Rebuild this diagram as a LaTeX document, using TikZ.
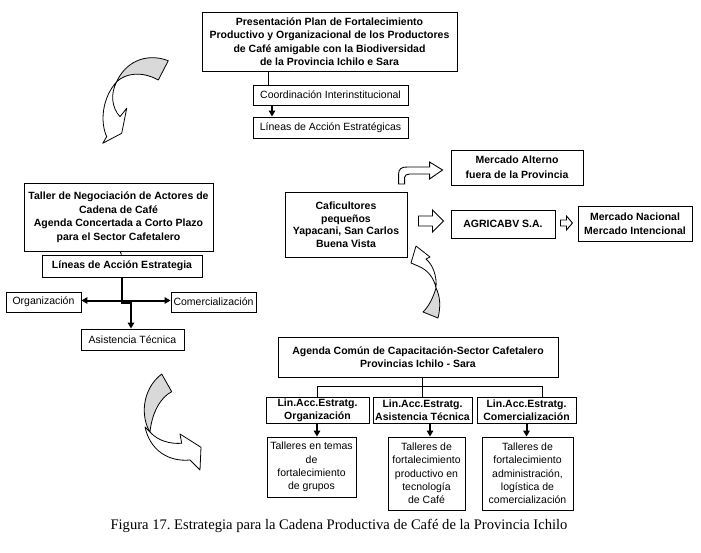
\documentclass[tikz,border=0pt]{standalone}
\usepackage{fontspec}
\setmainfont{Liberation Sans}
\newfontfamily\capfont{Liberation Serif}
\usetikzlibrary{arrows.meta,calc}
\begin{document}
\begin{tikzpicture}[x=1pt,y=-1pt,
  box/.style={draw, line width=0.9pt, fill=white, inner sep=0pt, align=center, font=\fontsize{10.5}{13.5}\selectfont},
  bbox/.style={box, font=\bfseries\fontsize{10.5}{13.5}\selectfont},
  link/.style={line width=0.9pt},
  thickarr/.style={line width=2pt, line join=miter, -{Triangle[width=6.5pt,length=6pt]}},
  dblarr/.style={line width=2pt, {Triangle[width=6.5pt,length=6pt]}-{Triangle[width=6.5pt,length=6pt]}},
  blockarr/.style={draw, line width=0.9pt, fill=white, line join=miter},
  curvew/.style={draw, line width=0.8pt, fill=white, line join=round},
  curveg/.style={draw, line width=0.8pt, fill=gray!30, line join=round},
]
\useasboundingbox (0,0) rectangle (701,553);
\fill[white] (0,0) rectangle (701,553);

% ---------- top column ----------
\node[bbox, minimum width=255pt, minimum height=59pt] (top) at (329.5,41.5)
  {Presentación Plan de Fortalecimiento\\Productivo y Organizacional de los Productores\\de Café amigable con la Biodiversidad\\de la Provincia Ichilo e Sara};
\node[box, minimum width=155pt, minimum height=20pt] (coord) at (330.5,95) {Coordinación Interinstitucional};
\node[box, minimum width=155pt, minimum height=21pt] (lineas) at (330.5,127.5) {Líneas de Acción Estratégicas};
\draw[link] ([xshift=-61.5pt]top.south) -- ([xshift=-62.5pt]coord.north);
\draw[thickarr] ([xshift=-58.5pt]coord.south) -- ([xshift=-58.5pt]lineas.north);

% ---------- left column ----------
\node[bbox, minimum width=189pt, minimum height=68pt] (taller) at (118.5,217)
  {Taller de Negociación de Actores de\\Cadena de Café\\Agenda Concertada a Corto Plazo\\para el Sector Cafetalero};
\node[bbox, minimum width=160pt, minimum height=22pt] (lineasL) at (122,266) {Líneas de Acción Estrategia};
\node[box, minimum width=75pt, minimum height=20pt] (org) at (43.5,302) {Organización};
\node[box, minimum width=85pt, minimum height=20pt] (com) at (213.5,302) {Comercialización};
\node[box, minimum width=103pt, minimum height=21pt] (asis) at (132.5,339.5) {Asistencia Técnica};
\draw[link] ([xshift=1.5pt]taller.south) -- ([xshift=-0.5pt]lineasL.north);
\draw[dblarr] ([yshift=1.5pt]org.east) -- ([yshift=1.5pt]com.west);
\draw[thickarr] (lineasL.south) -- ++(0,26) -- ++(9,0) -- ([xshift=-1.5pt]asis.north);

% ---------- middle ----------
\node[bbox, minimum width=122pt, minimum height=65pt, font=\bfseries\fontsize{10.5}{12.5}\selectfont] (cafi) at (346,224.5)
  {Caficultores\\pequeños\\Yapacani, San Carlos\\Buena Vista};
\node[bbox, minimum width=132pt, minimum height=35pt, font=\bfseries\fontsize{10.5}{15}\selectfont] (alterno) at (517,167.5)
  {Mercado Alterno\\fuera de la Provincia};
\node[bbox, minimum width=104pt, minimum height=28pt] (agri) at (503,224) {AGRICABV S.A.};
\node[bbox, minimum width=114pt, minimum height=35pt, font=\bfseries\fontsize{10.5}{14}\selectfont] (nacional) at (635,223.5)
  {Mercado Nacional\\Mercado Intencional};

\begin{scope}[shift={(cafi.east)}]
  \path[blockarr] (11,-8.5) -- (25,-8.5) -- (25,-14.5) -- (36,-3.5) -- (25,7.5) -- (25,1.5) -- (11,1.5) -- cycle;
\end{scope}
\begin{scope}[shift={(agri.east)}]
  \path[blockarr] (5,-4) -- (11,-4) -- (11,-8) -- (17,-1) -- (11,6) -- (11,2) -- (5,2) -- cycle;
\end{scope}
\begin{scope}[shift={(alterno.west)}]
  \path[blockarr] (-52,16.5) -- (-52,7) .. controls (-52,1) and (-49,-0.5) .. (-43,-0.5) -- (-21,-0.5) -- (-21,-5.5)
    -- (-8,2.5) -- (-21,11.5) -- (-21,6.5) -- (-41,6.5) .. controls (-44,6.5) and (-46,8) .. (-46,10) -- (-46,16.5) -- cycle;
\end{scope}

% ---------- bottom right ----------
\node[bbox, minimum width=280pt, minimum height=40pt, font=\bfseries\fontsize{10.5}{13}\selectfont] (agenda) at (418,357)
  {Agenda Común de Capacitación-Sector Cafetalero\\Provincias Ichilo - Sara};
\node[bbox, minimum width=103pt, minimum height=26pt, font=\bfseries\fontsize{10.5}{13}\selectfont] (lin1) at (317.5,410) {Lin.Acc.Estratg.\\Organización};
\node[bbox, minimum width=99pt, minimum height=26pt, font=\bfseries\fontsize{10.5}{13}\selectfont] (lin2) at (422.5,410) {Lin.Acc.Estratg.\\Asistencia Técnica};
\node[bbox, minimum width=99pt, minimum height=26pt, font=\bfseries\fontsize{10.5}{13}\selectfont] (lin3) at (526.5,410) {Lin.Acc.Estratg.\\Comercialización};
\node[box, minimum width=89pt, minimum height=60pt, font=\fontsize{10.5}{13.3}\selectfont] (tal1) at (311.5,467)
  {Talleres en temas\\de\\fortalecimiento\\de grupos};
\node[box, minimum width=77pt, minimum height=73pt, font=\fontsize{10.5}{13.3}\selectfont] (tal2) at (426.5,473.5)
  {Talleres de\\fortalecimiento\\productivo en\\tecnología\\de Café};
\node[box, minimum width=91pt, minimum height=73pt, font=\fontsize{10.5}{13.3}\selectfont] (tal3) at (527.5,473.5)
  {Talleres de\\fortalecimiento\\administración,\\logística de\\comercialización};

\draw[link] ([xshift=4pt]agenda.south) -- ++(0,10);
\draw[link] (lin1.north) -- ++(0,-10) -| ([xshift=15.5pt]lin3.north);
\draw[link] (lin2.north) -- ++(0,-10);
\draw[thickarr] ([xshift=-0.5pt]lin1.south) coordinate (a1) -- (a1 |- tal1.north);
\draw[thickarr] ([xshift=7.5pt]lin2.south) coordinate (a2) -- (a2 |- tal2.north);
\draw[thickarr] (lin3.south) coordinate (a3) -- (a3 |- tal3.north);

% ---------- curved arrows ----------
% top-left
\path[curvew] (116.7,81.7) .. controls (110,94) and (112,108) .. (120,116.7) -- (126.7,108.3) -- (121.7,133.3)
  -- (102.7,143.3) -- (106.7,136.7) .. controls (100,122) and (102,98) .. (116.7,81.7) -- cycle;
\path[curveg] (116.7,81.7) .. controls (125,63) and (145,52) .. (168.3,60.7) -- (158.3,80)
  .. controls (142,71) and (126,73) .. (116.7,81.7) -- cycle;
% bottom-left
\path[curvew] (150,432) .. controls (158,441) and (170,444) .. (181.7,443.3) -- (180,434) -- (201,447.3) -- (200,470)
  -- (190,460) .. controls (168,462) and (150,450) .. (145,427) -- cycle;
\path[curveg] (161.7,374) -- (171.7,391.7) .. controls (161,397) and (152,412) .. (150,432)
  .. controls (141,418) and (141,390) .. (161.7,374) -- cycle;
% near caficultores
\path[curvew] (418,266) .. controls (428,270) and (434,278) .. (436,288) .. controls (437,276) and (433,265) .. (426,259)
  -- (430,257) -- (416,246) -- (411,263) -- cycle;
\path[curveg] (436,288) .. controls (433,298) and (429,306) .. (423,312) -- (438,318)
  .. controls (441,306) and (440,296) .. (436,288) -- cycle;

% ---------- caption ----------
\node[font=\capfont\fontsize{14.6}{17}\selectfont, anchor=base, inner sep=0pt] (cap) at (339,529)
  {Figura 17.\ Estrategia para la Cadena Productiva de Café de la Provincia Ichilo};
\end{tikzpicture}
\end{document}
